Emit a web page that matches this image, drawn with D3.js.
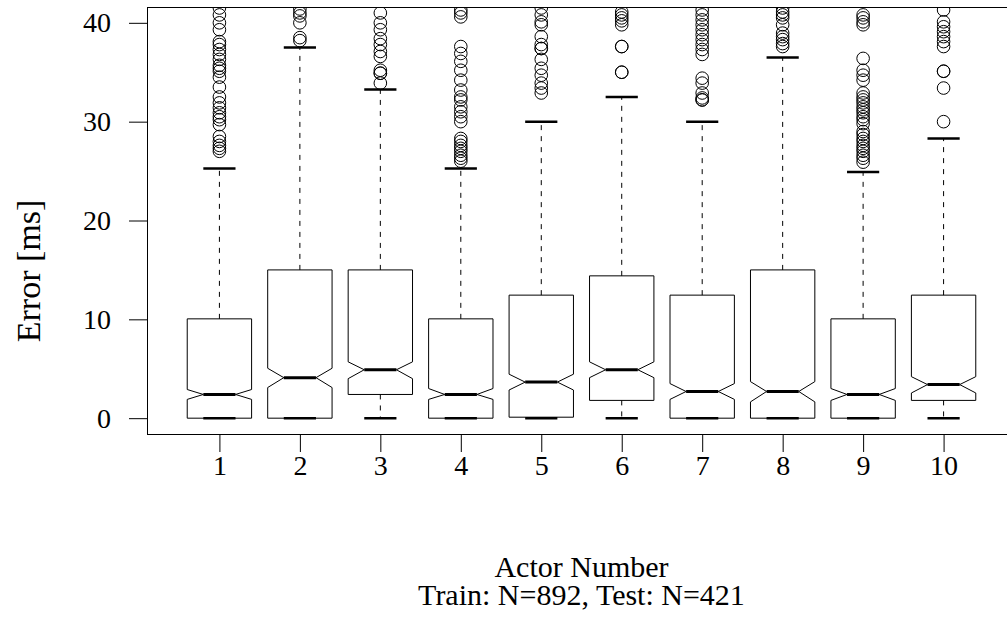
<!DOCTYPE html>
<html>
<head>
<meta charset="utf-8">
<script src="https://cdn.jsdelivr.net/npm/d3@7"></script>
<style>
  html, body { margin: 0; padding: 0; background: #fff; }
  svg { display: block; }
  text { font-family: "Liberation Serif", "Times New Roman", serif; fill: #000; }
</style>
</head>
<body>
<div class="chart"></div>
<script>
const actors = ["1", "2", "3", "4", "5", "6", "7", "8", "9", "10"];
const yTicks = [0, 10, 20, 30, 40];

const q1 = [0, 0, 2.4, 0, 0.1, 1.8, 0, 0, 0, 1.8];
const median = [2.4, 4.1, 4.9, 2.4, 3.65, 4.9, 2.7, 2.7, 2.4, 3.4];
const q3 = [10.05, 15, 15, 10.05, 12.45, 14.4, 12.45, 15, 10.05, 12.45];
const notchLo = [1.9, 3.1, 4.0, 1.9, 2.85, 4.1, 1.9, 1.65, 1.8, 2.55];
const notchHi = [2.9, 5.05, 5.7, 3.0, 4.45, 5.7, 3.5, 3.7, 3.0, 4.2];
const whiskerLo = [0, 0, 0, 0, 0, 0, 0, 0, 0, 0];
const whiskerHi = [25.25, 37.5, 33.25, 25.25, 30, 32.5, 30, 36.5, 24.9, 28.3];

const outliers = [
  [41.5, 40.8, 40.0, 39.3, 38.1, 37.8, 37.3, 36.8, 36.3, 35.7, 35.4, 35.1, 34.5, 33.5,
   32.5, 31.9, 31.4, 30.9, 30.5, 30.2, 29.7, 28.5, 28.0, 27.6, 27.3, 27.0],
  [41.4, 41.0, 40.7, 40.0, 38.5, 38.2],
  [41.0, 40.0, 39.3, 38.4, 37.8, 37.1, 36.6, 35.2, 34.9, 34.9, 33.9],
  [41.3, 41.0, 40.6, 37.6, 36.9, 36.1, 35.2, 34.2, 33.2, 32.5, 32.2, 31.5, 31.0, 30.5,
   30.0, 28.3, 28.0, 27.6, 27.3, 27.0, 26.6, 26.3, 26.0],
  [41.5, 40.8, 40.1, 39.8, 38.6, 37.8, 37.4, 37.4, 36.3, 35.4, 34.7, 33.9, 33.4, 32.9],
  [41.1, 40.8, 40.5, 40.2, 39.8, 37.6, 37.6, 35.0, 35.0],
  [41.3, 40.8, 40.3, 39.8, 39.3, 38.8, 38.3, 37.8, 37.3, 36.8, 34.4, 33.9, 32.9, 32.4,
   32.2, 32.2],
  [41.5, 41.1, 40.8, 40.5, 39.8, 38.96, 38.6, 38.3, 37.9, 37.6],
  [40.8, 40.5, 40.1, 39.8, 36.4, 35.2, 34.7, 34.2, 32.9, 32.5, 32.2, 31.9, 31.5, 31.2,
   30.9, 30.5, 30.2, 29.8, 29.0, 28.7, 28.3, 28.0, 27.6, 27.3, 27.0, 26.6, 26.3, 25.9],
  [41.3, 40.1, 39.6, 39.1, 38.6, 38.1, 37.6, 35.1, 35.1, 33.4, 30.0],
];

const xLabel = "Actor Number";
const subLabel = "Train: N=892, Test: N=421";
const yLabel = "Error [ms]";

const width = 1007;
const height = 618;
const plot = { left: 147, right: 1016, top: 7, bottom: 434 };
const tickFont = 28;
const labelFont = 30;

const boxes = actors.map((a, i) => ({
  actor: a,
  pos: i + 1,
  q1: q1[i],
  median: median[i],
  q3: q3[i],
  notchLo: notchLo[i],
  notchHi: notchHi[i],
  whiskerLo: whiskerLo[i],
  whiskerHi: whiskerHi[i],
  outliers: outliers[i],
}));

const svg = d3
  .select(".chart")
  .append("svg")
  .attr("width", width)
  .attr("height", height);

const xScale = d3
  .scaleLinear()
  .domain([0.1, actors.length + 0.9])
  .range([plot.left, plot.right]);

const yScale = d3
  .scaleLinear()
  .domain([-1.6, 41.6])
  .range([plot.bottom, plot.top]);

const boxHalf = xScale(1.4) - xScale(1);
const notchHalf = boxHalf / 2;
const stapleHalf = boxHalf / 2;

svg
  .append("clipPath")
  .attr("id", "plot-clip")
  .append("rect")
  .attr("x", plot.left)
  .attr("y", plot.top)
  .attr("width", plot.right - plot.left)
  .attr("height", plot.bottom - plot.top);

// Axes
svg
  .append("g")
  .attr("class", "xAxis")
  .attr("transform", `translate(0, ${plot.bottom})`)
  .call(
    d3
      .axisBottom(xScale)
      .tickValues(boxes.map((d) => d.pos))
      .tickFormat((d) => actors[d - 1])
      .tickSize(18)
      .tickPadding(3)
  );

svg
  .append("g")
  .attr("class", "yAxis")
  .attr("transform", `translate(${plot.left}, 0)`)
  .call(
    d3
      .axisLeft(yScale)
      .tickValues(yTicks)
      .tickFormat(d3.format("d"))
      .tickSize(18)
      .tickPadding(18)
  );

svg.selectAll(".domain").remove();
svg
  .selectAll(".tick text")
  .attr("font-size", `${tickFont}px`)
  .attr("font-family", null);
svg.selectAll(".tick line").attr("stroke", "#000");

// Frame (right side runs past the page edge)
svg
  .append("rect")
  .attr("x", plot.left + 0.5)
  .attr("y", plot.top + 0.5)
  .attr("width", plot.right - plot.left)
  .attr("height", plot.bottom - plot.top)
  .attr("fill", "none")
  .attr("stroke", "#000");

const g = svg.append("g").attr("clip-path", "url(#plot-clip)");

const box = g
  .selectAll("g.box")
  .data(boxes)
  .join("g")
  .attr("class", "box");

// Whiskers
box
  .append("line")
  .attr("x1", (d) => xScale(d.pos))
  .attr("x2", (d) => xScale(d.pos))
  .attr("y1", (d) => yScale(d.q3))
  .attr("y2", (d) => yScale(d.whiskerHi))
  .attr("stroke", "#000")
  .attr("stroke-dasharray", "5,6");

box
  .filter((d) => d.q1 > d.whiskerLo + 0.2)
  .append("line")
  .attr("x1", (d) => xScale(d.pos))
  .attr("x2", (d) => xScale(d.pos))
  .attr("y1", (d) => yScale(d.q1))
  .attr("y2", (d) => yScale(d.whiskerLo))
  .attr("stroke", "#000")
  .attr("stroke-dasharray", "5,6");

// Staples
["whiskerHi", "whiskerLo"].forEach((key) => {
  box
    .append("line")
    .attr("x1", (d) => xScale(d.pos) - stapleHalf)
    .attr("x2", (d) => xScale(d.pos) + stapleHalf)
    .attr("y1", (d) => yScale(d[key]))
    .attr("y2", (d) => yScale(d[key]))
    .attr("stroke", "#000")
    .attr("stroke-width", 2.5);
});

// Notched boxes
box
  .append("path")
  .attr("d", (d) => {
    const c = xScale(d.pos);
    const nLo = Math.max(d.notchLo, d.q1);
    const nHi = Math.min(d.notchHi, d.q3);
    const pts = [
      [c - boxHalf, yScale(d.q1)],
      [c - boxHalf, yScale(nLo)],
      [c - notchHalf, yScale(d.median)],
      [c - boxHalf, yScale(nHi)],
      [c - boxHalf, yScale(d.q3)],
      [c + boxHalf, yScale(d.q3)],
      [c + boxHalf, yScale(nHi)],
      [c + notchHalf, yScale(d.median)],
      [c + boxHalf, yScale(nLo)],
      [c + boxHalf, yScale(d.q1)],
    ];
    return d3.line()(pts) + "Z";
  })
  .attr("fill", "none")
  .attr("stroke", "#000")
  .attr("stroke-width", 1);

// Medians
box
  .append("line")
  .attr("x1", (d) => xScale(d.pos) - notchHalf)
  .attr("x2", (d) => xScale(d.pos) + notchHalf)
  .attr("y1", (d) => yScale(d.median))
  .attr("y2", (d) => yScale(d.median))
  .attr("stroke", "#000")
  .attr("stroke-width", 3);

// Outliers
box
  .selectAll("circle")
  .data((d) => d.outliers.map((v) => ({ pos: d.pos, v })))
  .join("circle")
  .attr("cx", (d) => xScale(d.pos))
  .attr("cy", (d) => yScale(d.v))
  .attr("r", 6.3)
  .attr("fill", "none")
  .attr("stroke", "#000")
  .attr("stroke-width", 1);

// Axis labels
svg
  .append("text")
  .attr("x", (plot.left + plot.right) / 2)
  .attr("y", 566)
  .attr("dy", "0.35em")
  .attr("text-anchor", "middle")
  .attr("font-size", `${labelFont}px`)
  .text(xLabel);

svg
  .append("text")
  .attr("x", (plot.left + plot.right) / 2)
  .attr("y", 594)
  .attr("dy", "0.35em")
  .attr("text-anchor", "middle")
  .attr("font-size", `${labelFont}px`)
  .text(subLabel);

svg
  .append("text")
  .attr("transform", `translate(28, 271) rotate(-90)`)
  .attr("dy", "0.35em")
  .attr("text-anchor", "middle")
  .attr("font-size", "34px")
  .text(yLabel);
</script>
</body>
</html>
